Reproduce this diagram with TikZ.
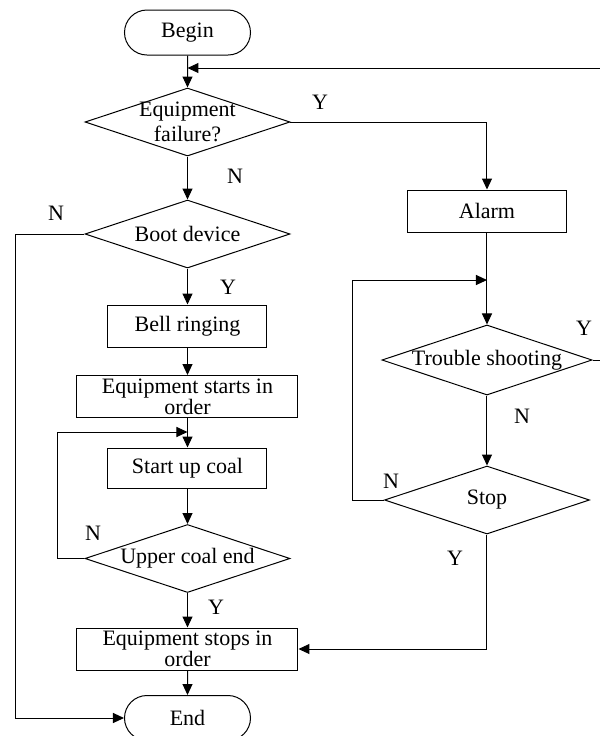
\documentclass[tikz,border=0pt]{standalone}
\usepackage{fontspec}
\setmainfont{Liberation Serif}
\usetikzlibrary{shapes.geometric,shapes.misc,arrows.meta}

\begin{document}
\begin{tikzpicture}[x=0.5pt,y=-0.5pt,line width=0.5pt,
  every node/.style={font=\fontsize{11}{10.5}\selectfont},
  >={Triangle[length=5.5pt,width=5pt]},
  term/.style={draw,rounded rectangle,minimum width=63pt,minimum height=22.5pt,inner sep=0pt},
  proc/.style={draw,rectangle,minimum width=79.5pt,minimum height=21pt,inner sep=0pt},
  wideproc/.style={proc,minimum width=110.5pt,align=center},
  decide/.style={draw,diamond,aspect=3,minimum width=102.5pt,minimum height=34pt,inner sep=0pt}]
  \useasboundingbox (0,0) rectangle (600,736);
  % main column
  \node[term] (begin) at (187.5,32.5) {Begin};
  \node[decide] (fail) at (187.5,122) {};
  \node[align=center,font=\fontsize{11}{12.5}\selectfont] (failtxt) at (fail.center) {Equipment\\failure?};
  \node[decide] (boot) at (187.5,234) {Boot device};
  \node[proc] (bell) at (187.5,326) {Bell ringing};
  \node[wideproc] (starts) at (187.5,396.5) {Equipment starts in\\order};
  \node[proc,minimum height=20pt] (coal) at (187.5,468) {Start up coal};
  \node[decide] (upper) at (187.5,558.5) {Upper coal end};
  \node[wideproc] (stops) at (187.5,649) {Equipment stops in\\order};
  \node[term] (end) at (187.5,718) {End};
  % fault branch
  \node[proc] (alarm) at (487,211) {Alarm};
  \node[decide] (trouble) at (487,360) {Trouble shooting};
  \node[decide] (stop) at (487,500) {Stop};
  % bends and joins
  \coordinate (join0) at (187.5,68);
  \coordinate (edge) at (602,68);
  \coordinate (bypass) at (15,718);
  \coordinate (join1) at (187.5,432);
  \coordinate (lloop) at (58,432);
  \coordinate (join2) at (487,280);
  \coordinate (rloop) at (353,280);
  % arrows
  \draw[->] (begin) -- (fail);
  \draw[->] (fail) -- (boot);
  \draw[->] (boot) -- (bell);
  \draw[->] (bell) -- (starts);
  \draw[->] (starts) -- (coal);
  \draw[->] (coal) -- (upper);
  \draw[->] (upper) -- (stops);
  \draw[->] (stops) -- (end);
  \draw[->] (fail.east) -| (alarm);
  \draw[->] (alarm) -- (trouble);
  \draw[->] (trouble) -- (stop);
  \draw[->] (boot.west) -| (bypass) -- (end.west);
  \draw[->] (upper.west) -| (lloop) -- (join1);
  \draw[->] (stop.west) -| (rloop) -- (join2);
  \draw[->] (stop.south) |- (stops.east);
  \draw[->] (trouble.east) -| (edge) -- (join0);
  % labels
  \node (y1) at (320,102) {Y};
  \node (n1) at (235,176) {N};
  \node (n2) at (56,213) {N};
  \node (y2) at (228,287) {Y};
  \node (n3) at (93,533) {N};
  \node (y3) at (216,607) {Y};
  \node (y4) at (584,328) {Y};
  \node (n4) at (522,416) {N};
  \node (n5) at (391,481) {N};
  \node (y5) at (455,558) {Y};
\end{tikzpicture}
\end{document}
